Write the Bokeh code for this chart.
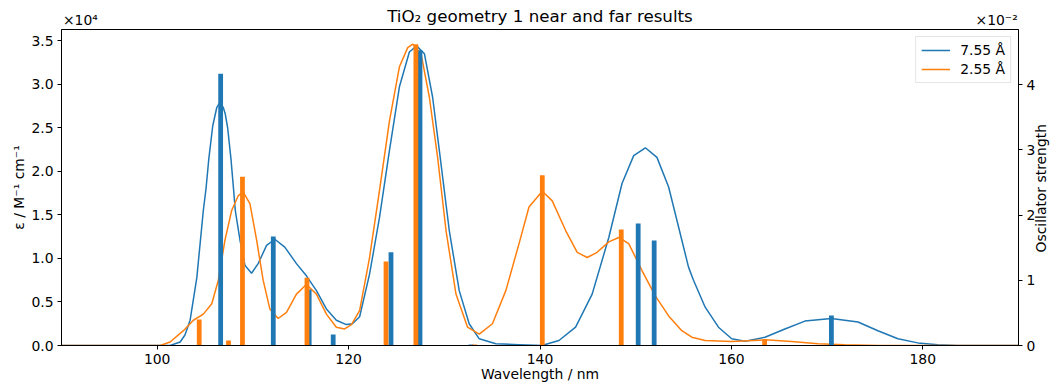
import math
from bokeh.plotting import figure
from bokeh.models import (Range1d, LinearAxis, FixedTicker, NumeralTickFormatter,
                          CustomJSTickFormatter, Legend, LegendItem)
from bokeh.embed import file_html
from bokeh.resources import INLINE

# ---------------- data ----------------
# Broadened spectra: wavelength (nm) and epsilon in units of 1e4 M^-1 cm^-1
wl_far = [90, 100.0, 101.35, 102.40, 102.9, 103.44, 104.14, 104.82, 105.10, 105.39,
          105.80, 106.22, 106.56, 106.91, 107.11, 107.36, 107.71, 107.99, 108.16, 108.65,
          109.17, 109.86, 110.55, 111.43, 112.29,
          113.33, 114.55, 115.59, 116.64, 117.68, 118.72, 119.76, 120.4, 121.15, 122.19,
          123.23, 124.27, 125.31, 126.35, 127.11, 127.92, 128.78, 129.48, 130.52, 131.56,
          132.60, 133.65, 135.39, 137.81, 140.2, 141.98, 143.72, 145.45, 147.19, 148.57,
          149.79, 151.01, 152.22, 153.44, 154.48, 155.52, 156.04, 157.26, 158.65, 160.03,
          161.43, 163.51, 165.59, 167.68, 170.45, 173.23, 175.31, 177.40, 179.48, 181.56,
          183.6, 190]
eps_far = [0, 0, 0, 0.04, 0.12, 0.29, 0.78, 1.55, 1.80, 2.14,
           2.52, 2.73, 2.79, 2.73, 2.66, 2.50, 2.14, 1.78, 1.55, 1.21,
           0.92, 0.83, 0.94, 1.15, 1.22,
           1.13, 0.94, 0.80, 0.63, 0.42, 0.29, 0.24, 0.25, 0.33, 0.82,
           1.47, 2.24, 2.97, 3.37, 3.44, 3.35, 2.85, 2.24, 1.32, 0.63,
           0.25, 0.077, 0.02, 0.01, 0.0, 0.057, 0.21, 0.59, 1.24, 1.86,
           2.18, 2.27, 2.16, 1.82, 1.36, 0.90, 0.75, 0.44, 0.21, 0.077,
           0.05, 0.095, 0.19, 0.28, 0.31, 0.27, 0.17, 0.077, 0.03, 0.01,
           0, 0]

wl_near = [90, 100.31, 101.35, 102.74, 103.78, 104.82, 105.70, 106.39, 107.08, 107.78,
           108.47, 108.99, 109.69, 110.39, 111.07, 111.77, 112.64, 113.51, 114.55, 115.59,
           116.64, 117.68, 118.72, 119.58, 120.3, 121.15, 122.19, 123.23, 124.27, 125.31,
           126.18, 126.70, 127.57, 128.44, 129.30, 130.18, 131.22, 132.43, 133.65, 135.03,
           136.43, 137.81, 138.85, 140.24, 141.28, 142.68, 143.89, 144.93, 145.97, 147.19,
           148.23, 149.27, 150.66, 152.05, 153.44, 154.82, 155.86, 157.26, 160.03, 163.51,
           166.28, 169.06, 171.84, 175.3, 190]
eps_near = [0, 0, 0.04, 0.17, 0.29, 0.36, 0.48, 0.75, 1.21, 1.55,
            1.72, 1.76, 1.63, 1.21, 0.75, 0.42, 0.31, 0.38, 0.59, 0.70,
            0.59, 0.36, 0.21, 0.19, 0.24, 0.40, 1.01, 1.78, 2.58, 3.20,
            3.42, 3.46, 3.35, 2.85, 2.16, 1.32, 0.59, 0.21, 0.13, 0.25,
            0.63, 1.17, 1.59, 1.77, 1.66, 1.32, 1.07, 1.01, 1.07, 1.19,
            1.24, 1.17, 0.86, 0.57, 0.34, 0.17, 0.095, 0.057, 0.046, 0.065,
            0.046, 0.02, 0.01, 0, 0]

# Stick spectra: wavelength (nm) and oscillator strength in units of 1e-2
far_bar_wl = [106.63, 112.13, 115.88, 118.39, 124.43, 127.46, 132.78, 150.26, 151.93, 170.45]
far_bar_f = [4.17, 1.67, 0.86, 0.17, 1.43, 4.53, 0.015, 1.87, 1.61, 0.46]
near_bar_wl = [104.39, 107.45, 108.91, 115.65, 123.91, 127.03, 133.18, 140.24, 148.49, 163.47]
near_bar_f = [0.40, 0.077, 2.59, 1.04, 1.29, 4.62, 0.015, 2.61, 1.78, 0.09]

series_labels = ["7.55 Å", "2.55 Å"]
x_ticks = [100, 120, 140, 160, 180]
eps_ticks = [0, 0.5, 1.0, 1.5, 2.0, 2.5, 3.0, 3.5]
f_ticks = [0, 1, 2, 3, 4]

title_text = "TiO₂ geometry 1 near and far results"
x_label = "Wavelength / nm"
y_label = "ε / M⁻¹ cm⁻¹"
y2_label = "Oscillator strength"
eps_scale_text = "×10⁴"
f_scale_text = "×10⁻²"

BLUE = "#1f77b4"
ORANGE = "#ff7f0e"
FONT = "DejaVu Sans"
FS = "13.9px"

# ---------------- figure ----------------
p = figure(width=1059, height=387, x_range=Range1d(90, 190), y_range=Range1d(0, 3.628),
           output_backend="svg", toolbar_location=None, title=None,
           min_border_left=61, min_border_right=36, min_border_top=29, min_border_bottom=42)
p.extra_y_ranges = {"f": Range1d(0, 4.847),
                    "side": Range1d(0, 316)}   # helper scale (pixels) for the right label
p.extra_x_ranges = {"top": Range1d(0, 962)}    # helper scale (pixels) for the header row
p.grid.visible = False
p.outline_line_color = "black"
p.outline_line_width = 1
p.background_fill_color = "white"
p.border_fill_color = "white"

l1 = p.line(wl_far, eps_far, line_color=BLUE, line_width=1.5)
l2 = p.line(wl_near, eps_near, line_color=ORANGE, line_width=1.5)
p.vbar(x=far_bar_wl, top=far_bar_f, width=0.5, fill_color=BLUE, line_color=None, y_range_name="f")
p.vbar(x=near_bar_wl, top=near_bar_f, width=0.5, fill_color=ORANGE, line_color=None, y_range_name="f")


def style_axis(ax):
    ax.axis_line_color = "black"
    ax.axis_line_width = 1
    ax.major_tick_line_color = "black"
    ax.major_tick_out = 4
    ax.major_tick_in = 0
    ax.minor_tick_out = 0
    ax.minor_tick_in = 0
    ax.minor_tick_line_color = None
    ax.major_label_text_font = FONT
    ax.major_label_text_font_size = FS
    ax.major_label_text_color = "black"
    ax.major_label_standoff = 4
    ax.axis_label_text_font = FONT
    ax.axis_label_text_font_size = FS
    ax.axis_label_text_font_style = "normal"
    ax.axis_label_text_color = "black"


ax2 = LinearAxis(y_range_name="f")
p.add_layout(ax2, "right")

for ax in [p.xaxis[0], p.yaxis[0], ax2]:
    style_axis(ax)

p.xaxis[0].ticker = FixedTicker(ticks=x_ticks)
p.xaxis[0].axis_label = x_label
p.xaxis[0].axis_label_standoff = -1
p.yaxis[0].ticker = FixedTicker(ticks=eps_ticks)
p.yaxis[0].formatter = NumeralTickFormatter(format="0.0")
p.yaxis[0].axis_label = y_label
p.yaxis[0].axis_label_standoff = 1
ax2.ticker = FixedTicker(ticks=f_ticks)
ax2.formatter = NumeralTickFormatter(format="0")

# right-hand axis title, drawn reading bottom-to-top like the reference
side = LinearAxis(y_range_name="side")
style_axis(side)
side.axis_line_color = None
side.major_tick_line_color = None
side.major_tick_out = 0
side.major_label_standoff = 2
side.major_label_orientation = math.pi / 2
side.ticker = FixedTicker(ticks=[93])
side.formatter = CustomJSTickFormatter(args=dict(t=y2_label), code="return t;")
p.add_layout(side, "right")

# header row: scale factors as tick labels, chart title as the axis label
head = LinearAxis(x_range_name="top")
style_axis(head)
head.axis_line_color = None
head.major_tick_line_color = None
head.major_tick_out = 0
head.major_label_standoff = 2
head.ticker = FixedTicker(ticks=[19, 940])
head.formatter = CustomJSTickFormatter(
    args=dict(a=eps_scale_text, b=f_scale_text),
    code="return tick < 481 ? a : b;")
head.axis_label = title_text
head.axis_label_text_font_size = "16.7px"
head.axis_label_standoff = -17
p.add_layout(head, "above")

legend = Legend(items=[LegendItem(label=series_labels[0], renderers=[l1]),
                       LegendItem(label=series_labels[1], renderers=[l2])],
                location="top_right", margin=7, padding=5, spacing=3, label_standoff=10,
                glyph_width=29, glyph_height=16, label_height=16,
                label_text_font=FONT, label_text_font_size=FS, label_text_color="black",
                border_line_color="#cccccc", border_line_width=1,
                background_fill_color="white", background_fill_alpha=0.8)
p.add_layout(legend)

open("out.html", "w", encoding="utf-8").write(file_html(p, INLINE))
